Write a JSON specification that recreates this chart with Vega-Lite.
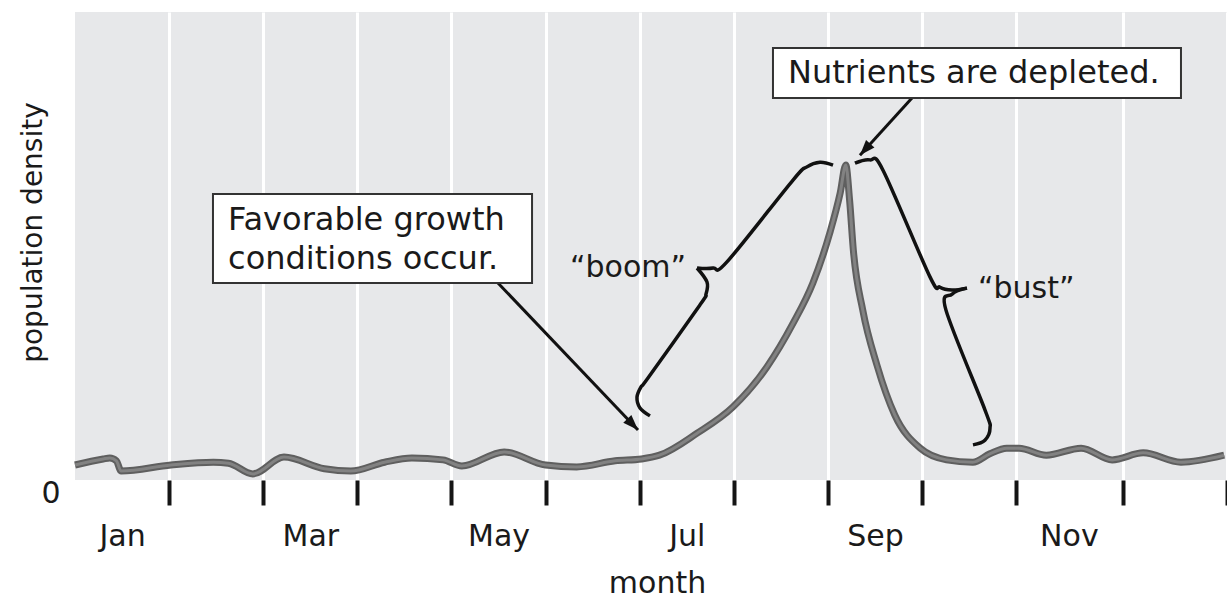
{
  "$schema": "https://vega.github.io/schema/vega-lite/v6.json",
  "autosize": {"type": "none"},
  "padding": {"left": 75, "top": 12, "right": 0, "bottom": 120},
  "width": 1152,
  "height": 468,
  "config": {
    "font": "DejaVu Sans",
    "view": {"fill": "#e7e8ea", "stroke": null},
    "axis": {"labelColor": "#1a1a1a", "titleColor": "#1a1a1a", "titleFontWeight": "normal", "labelFont": "DejaVu Sans", "titleFont": "DejaVu Sans"}
  },
  "datasets": {
    "curve": [
      {"m": 0.0, "v": 3.2}, {"m": 0.3, "v": 4.5}, {"m": 0.37, "v": 4.7}, {"m": 0.44, "v": 4.1}, {"m": 0.49, "v": 1.9},
      {"m": 1.02, "v": 3.2}, {"m": 1.47, "v": 3.8}, {"m": 1.63, "v": 3.6}, {"m": 1.89, "v": 1.3}, {"m": 2.22, "v": 4.9},
      {"m": 2.65, "v": 2.4}, {"m": 2.93, "v": 1.9}, {"m": 3.29, "v": 3.8}, {"m": 3.58, "v": 4.7}, {"m": 3.91, "v": 4.3},
      {"m": 4.11, "v": 3.0}, {"m": 4.56, "v": 6.0}, {"m": 5.0, "v": 3.2}, {"m": 5.33, "v": 2.8}, {"m": 5.74, "v": 4.1},
      {"m": 6.02, "v": 4.5}, {"m": 6.21, "v": 5.3}, {"m": 6.61, "v": 10.0}, {"m": 6.99, "v": 15.6}, {"m": 7.35, "v": 24.1},
      {"m": 7.63, "v": 33.5}, {"m": 7.84, "v": 42.1}, {"m": 8.02, "v": 52.8}, {"m": 8.13, "v": 61.3}, {"m": 8.19, "v": 67.3},
      {"m": 8.23, "v": 59.8}, {"m": 8.27, "v": 49.1}, {"m": 8.37, "v": 36.3}, {"m": 8.52, "v": 24.6}, {"m": 8.71, "v": 13.9},
      {"m": 8.98, "v": 6.8}, {"m": 9.26, "v": 4.3}, {"m": 9.54, "v": 3.8}, {"m": 9.72, "v": 5.6}, {"m": 9.9, "v": 6.8},
      {"m": 10.03, "v": 6.8}, {"m": 10.32, "v": 5.3}, {"m": 10.69, "v": 6.8}, {"m": 11.02, "v": 4.3}, {"m": 11.35, "v": 5.8},
      {"m": 11.75, "v": 3.8}, {"m": 12.21, "v": 5.3}
    ],
    "braces": [
      {"seg": "boom-low", "i": 0, "m": 6.109, "v": 13.7},
      {"seg": "boom-low", "i": 1, "m": 6.003, "v": 15.4},
      {"seg": "boom-low", "i": 2, "m": 5.971, "v": 17.7},
      {"seg": "boom-low", "i": 3, "m": 6.014, "v": 19.9},
      {"seg": "boom-low", "i": 4, "m": 6.088, "v": 21.8},
      {"seg": "boom-low", "i": 5, "m": 6.64, "v": 37.4},
      {"seg": "boom-low", "i": 6, "m": 6.704, "v": 39.7},
      {"seg": "boom-low", "i": 7, "m": 6.715, "v": 42.3},
      {"seg": "boom-low", "i": 8, "m": 6.609, "v": 45.3},
      {"seg": "boom-up", "i": 0, "m": 6.609, "v": 45.3},
      {"seg": "boom-up", "i": 1, "m": 6.779, "v": 45.3},
      {"seg": "boom-up", "i": 2, "m": 6.927, "v": 46.6},
      {"seg": "boom-up", "i": 3, "m": 7.629, "v": 64.1},
      {"seg": "boom-up", "i": 4, "m": 7.777, "v": 66.9},
      {"seg": "boom-up", "i": 5, "m": 7.915, "v": 67.9},
      {"seg": "boom-up", "i": 6, "m": 8.054, "v": 67.3},
      {"seg": "bust-up", "i": 0, "m": 8.287, "v": 67.7},
      {"seg": "bust-up", "i": 1, "m": 8.447, "v": 68.4},
      {"seg": "bust-up", "i": 2, "m": 8.585, "v": 66.2},
      {"seg": "bust-up", "i": 3, "m": 9.084, "v": 43.4},
      {"seg": "bust-up", "i": 4, "m": 9.19, "v": 41.2},
      {"seg": "bust-up", "i": 5, "m": 9.318, "v": 40.6},
      {"seg": "bust-up", "i": 6, "m": 9.477, "v": 41.0},
      {"seg": "bust-low", "i": 0, "m": 9.477, "v": 41.0},
      {"seg": "bust-low", "i": 1, "m": 9.318, "v": 39.7},
      {"seg": "bust-low", "i": 2, "m": 9.254, "v": 36.3},
      {"seg": "bust-low", "i": 3, "m": 9.668, "v": 15.0},
      {"seg": "bust-low", "i": 4, "m": 9.722, "v": 11.1},
      {"seg": "bust-low", "i": 5, "m": 9.668, "v": 8.5},
      {"seg": "bust-low", "i": 6, "m": 9.541, "v": 7.5}
    ],
    "arrows": [
      {"arrow": "growth", "i": 0, "m": 4.494, "v": 42.1},
      {"arrow": "growth", "i": 1, "m": 5.982, "v": 10.7},
      {"arrow": "nutrients", "i": 0, "m": 8.893, "v": 81.6},
      {"arrow": "nutrients", "i": 1, "m": 8.34, "v": 69.4}
    ],
    "boxes": [
      {"box": "growth", "m": 1.466, "m2": 4.856, "v": 61.1, "v2": 42.1},
      {"box": "nutrients", "m": 7.416, "m2": 11.751, "v": 92.3, "v2": 81.6}
    ],
    "boxtext": [
      {"t": "Favorable growth", "m": 1.626, "v": 53.4},
      {"t": "conditions occur.", "m": 1.626, "v": 45.1},
      {"t": "Nutrients are depleted.", "m": 7.575, "v": 84.8}
    ],
    "labels": [
      {"t": "“boom”", "m": 5.259, "v": 43.4},
      {"t": "“bust”", "m": 9.594, "v": 38.9}
    ]
  },
  "encoding": {
    "x": {"field": "m", "type": "quantitative", "scale": {"domain": [0, 12.24], "nice": false, "zero": false}, "axis": null},
    "y": {"field": "v", "type": "quantitative", "scale": {"domain": [0, 100], "nice": false},
      "axis": {"orient": "left", "values": [0], "title": "population density", "ticks": false, "domain": false, "grid": false,
        "labelFontSize": 30, "labelPadding": 15, "labelBaseline": "middle", "labelOffset": 13,
        "titleFontSize": 28, "titleX": -34, "titleY": 220, "titleBaseline": "alphabetic", "titleAlign": "center", "titleAngle": 270}}
  },
  "resolve": {"axis": {"x": "independent"}},
  "layer": [
    {
      "data": {"name": "curve"},
      "mark": {"type": "line", "interpolate": "monotone", "color": "#5f5f5f", "strokeWidth": 7},
      "encoding": {
        "x": {"field": "m", "type": "quantitative", "scale": {"domain": [0, 12.24], "nice": false, "zero": false},
          "axis": {"orient": "bottom", "values": [1, 2, 3, 4, 5, 6, 7, 8, 9, 10, 11.13, 12.24], "labels": false, "title": null, "domain": false,
            "ticks": true, "tickColor": "#151515", "tickWidth": 4, "tickSize": 25,
            "grid": true, "gridColor": "#ffffff", "gridWidth": 3, "gridOpacity": 1}}
      }
    },
    {
      "data": {"name": "curve"},
      "mark": {"type": "line", "interpolate": "monotone", "color": "#828282", "strokeWidth": 3},
      "encoding": {
        "x": {"field": "m", "type": "quantitative", "scale": {"domain": [0, 12.24], "nice": false, "zero": false},
          "axis": {"orient": "bottom", "values": [0.5, 2.5, 4.5, 6.5, 8.5, 10.56], "grid": false, "ticks": false, "domain": false,
            "labelExpr": "datum.value < 1 ? 'Jan' : datum.value < 3 ? 'Mar' : datum.value < 5 ? 'May' : datum.value < 7 ? 'Jul' : datum.value < 9 ? 'Sep' : 'Nov'",
            "labelFontSize": 30, "labelPadding": 65, "labelBaseline": "alphabetic", "labelFlush": false, "labelOverlap": false,
            "title": "month", "titleFontSize": 30, "titleY": 112, "titleX": 582, "titleBaseline": "alphabetic", "titleAlign": "center"}}
      }
    },
    {
      "data": {"name": "braces"},
      "mark": {"type": "line", "interpolate": "cardinal", "color": "#111111", "strokeWidth": 3.5},
      "encoding": {
        "detail": {"field": "seg", "type": "nominal"},
        "order": {"field": "i", "type": "quantitative"}
      }
    },
    {
      "data": {"name": "arrows"},
      "mark": {"type": "line", "color": "#111111", "strokeWidth": 3},
      "encoding": {
        "detail": {"field": "arrow", "type": "nominal"},
        "order": {"field": "i", "type": "quantitative"}
      }
    },
    {
      "data": {"name": "arrows"},
      "transform": [{"filter": "datum.arrow == 'growth' && datum.i == 1"}],
      "mark": {"type": "point", "shape": "M0,0 L0.55,1.5 L-0.55,1.5 Z", "filled": true, "color": "#111111", "opacity": 1, "size": 420, "angle": 136}
    },
    {
      "data": {"name": "arrows"},
      "transform": [{"filter": "datum.arrow == 'nutrients' && datum.i == 1"}],
      "mark": {"type": "point", "shape": "M0,0 L0.55,1.5 L-0.55,1.5 Z", "filled": true, "color": "#111111", "opacity": 1, "size": 420, "angle": 222}
    },
    {
      "data": {"name": "boxes"},
      "mark": {"type": "rect", "fill": "#ffffff", "stroke": "#333333", "strokeWidth": 2},
      "encoding": {
        "x2": {"field": "m2"},
        "y2": {"field": "v2"}
      }
    },
    {
      "data": {"name": "boxtext"},
      "mark": {"type": "text", "align": "left", "baseline": "alphabetic", "fontSize": 32, "color": "#1a1a1a", "font": "DejaVu Sans"},
      "encoding": {"text": {"field": "t", "type": "nominal"}}
    },
    {
      "data": {"name": "labels"},
      "mark": {"type": "text", "align": "left", "baseline": "alphabetic", "fontSize": 30, "color": "#1a1a1a", "font": "DejaVu Sans"},
      "encoding": {"text": {"field": "t", "type": "nominal"}}
    }
  ]
}
